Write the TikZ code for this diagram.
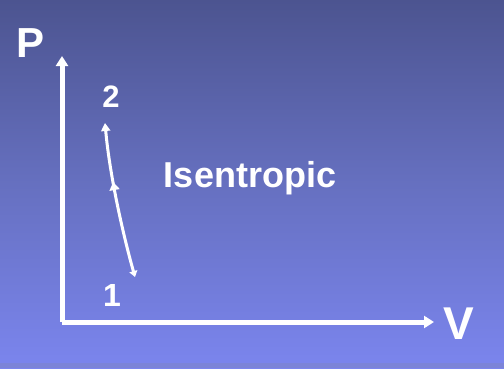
\documentclass[tikz,border=0pt]{standalone}
\usepackage{fontspec}
\setmainfont{Liberation Sans}
\usetikzlibrary{arrows.meta,decorations.markings}
\definecolor{bgtop}{HTML}{4C5490}
\definecolor{bgmid}{HTML}{6670C0}
\definecolor{bgbot}{HTML}{7B85EE}
\tikzset{
  axis/.style={white, line width=5pt, -{Triangle[length=10pt,width=12pt]}},
  curveline/.style={white, line width=3pt},
  lbl/.style={text=white, font=\bfseries, inner sep=0pt},
}
\begin{document}
\begin{tikzpicture}[x=1pt,y=1pt]
\useasboundingbox (0,0) rectangle (504,368);
\shade[top color=bgtop, bottom color=bgbot, middle color=bgmid] (0,0) rectangle (504,368);
\fill[bgbot!80!gray] (0,0) rectangle (504,5);
% axes
\coordinate (O) at (62,46);
\coordinate (Ptop) at (62,312);
\coordinate (Vend) at (434,46);
\draw[axis] (O) -- (Ptop);
\draw[axis] (O) -- (Vend);
% labels
\node[lbl, font=\fontsize{42}{42}\bfseries\selectfont] (P) at (31,325) {P};
\node[lbl, font=\fontsize{46}{46}\bfseries\selectfont] (V) at (459,44) {V};
\node[lbl, font=\fontsize{31}{31}\bfseries\selectfont] (n2) at (111,271) {2};
\node[lbl, font=\fontsize{32}{32}\bfseries\selectfont] (n1) at (112,73) {1};
\node[lbl, font=\fontsize{36}{36}\bfseries\selectfont] (iso) at (250,190) {Isentropic};
% process curve
\coordinate (p1) at (135,91);
\coordinate (p2) at (105,245);
\draw[curveline, {Triangle[length=6pt,width=8pt]}-{Triangle[length=8pt,width=9pt]},
  postaction={decorate, decoration={markings, mark=at position 0.62 with {\arrow{Triangle[length=8pt,width=10pt]}}}}]
  (p1) .. controls (124,130) and (110,190) .. (p2);
\end{tikzpicture}
\end{document}
